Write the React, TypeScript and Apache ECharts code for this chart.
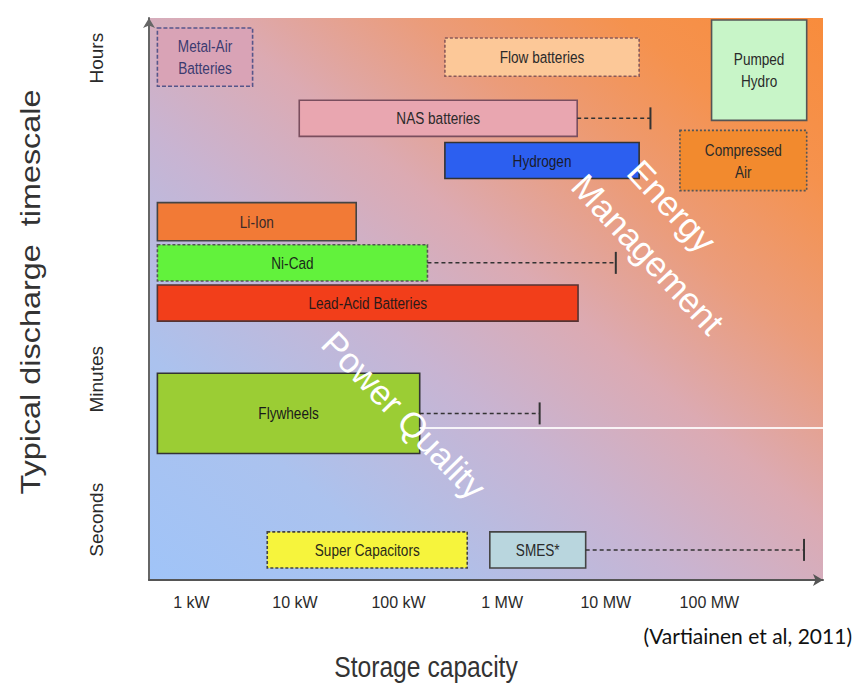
import React, { useEffect, useRef } from 'react';
import * as echarts from 'echarts';

// ---- data ----
const technologies = [
  'Metal-Air\nBatteries',
  'Flow batteries',
  'Pumped\nHydro',
  'NAS batteries',
  'Hydrogen',
  'Compressed\nAir',
  'Li-Ion',
  'Ni-Cad',
  'Lead-Acid Batteries',
  'Flywheels',
  'Super Capacitors',
  'SMES*',
];
// storage capacity range (kW, log axis)
const powerMinKW = [0.47, 280, 105000, 11, 280, 52000, 0.47, 0.47, 0.47, 0.47, 5.4, 760];
const powerMaxKW = [3.9, 21000, 870000, 5300, 21000, 870000, 39, 190, 5400, 160, 460, 6400];
// dashed extension (possible future range), kW
const powerExtKW: (number | null)[] = [null, null, null, 27000, null, null, null, 12500, null, 2300, null, 820000];
// discharge timescale band (relative scale units)
const timeLow = [24.6, 25.1, 22.9, 22.1, 20.0, 19.4, 16.9, 14.9, 12.9, 6.3, 0.6, 0.6];
const timeHigh = [27.5, 27.0, 27.9, 23.9, 21.8, 22.4, 18.8, 16.7, 14.7, 10.3, 2.4, 2.4];

const capacityTicks = ['1 kW', '10 kW', '100 kW', '1 MW', '10 MW', '100 MW'];
const timescaleTicks = ['Seconds', 'Minutes', 'Hours'];
const timescaleTickValues = [3, 10, 26];

// divider line (Power Quality boundary)
const dividerFromKW = 160;
const dividerLevel = 7.6;

// ---- styles ----
const fills = ['#d9a3b6', '#fcc898', '#c8f5c8', '#e9a6b0', '#2c5ff0', '#f28a2e', '#f27a36', '#62f23c', '#f23e1a', '#9bcd34', '#f6f43c', '#b9d6de'];
const strokes = ['#56568a', '#8a5a5a', '#555555', '#7a4e5e', '#333333', '#555555', '#444444', '#555555', '#553333', '#333333', '#444444', '#444444'];
const dashes: (number[] | null)[] = [[4, 2], [3, 2], null, null, null, [2, 2], null, [3, 2], null, null, [3, 2], null];
const textColors = ['#3b3b70', '#2a2a2a', '#2a2a2a', '#2a2a2a', '#1a1a2a', '#2a2a2a', '#3a2a2a', '#1a2a1a', '#2a1a1a', '#1a1a1a', '#2a2a1a', '#2a2a2a'];

const SANS = "'Liberation Sans', Arial, Helvetica, sans-serif";

export default function App() {
  const ref = useRef<HTMLDivElement>(null);

  useEffect(() => {
    const chart = echarts.init(ref.current!, null, { renderer: 'svg' });

    const data = technologies.map((_, i) => [powerMinKW[i], powerMaxKW[i], timeLow[i], timeHigh[i]]);

    const option: any = {
      animation: false,
      backgroundColor: '#ffffff',
      grid: {
        left: 149,
        right: 30,
        top: 18,
        bottom: 106,
        show: true,
        borderWidth: 0,
        backgroundColor: new echarts.graphic.LinearGradient(0, 1, 1, 0, [
          { offset: 0, color: '#a0c4f8' },
          { offset: 0.2, color: '#abc2ee' },
          { offset: 0.4, color: '#c8b4d2' },
          { offset: 0.55, color: '#dcaab2' },
          { offset: 0.7, color: '#eb9c7a' },
          { offset: 0.85, color: '#f5924e' },
          { offset: 1, color: '#f88c3c' },
        ]),
      },
      xAxis: {
        type: 'log',
        logBase: 10,
        min: 0.39,
        max: 1250000,
        axisLine: { show: true, symbol: ['none', 'arrow'], symbolSize: [9, 10], lineStyle: { color: '#555', width: 2 } },
        axisTick: { show: false },
        splitLine: { show: false },
        axisLabel: {
          margin: 14,
          color: '#2a2a2a',
          fontFamily: SANS,
          fontSize: 16,
          showMinLabel: true,
          showMaxLabel: true,
          formatter: (v: number) => {
            const l = Math.log10(v);
            const r = Math.round(l);
            if (Math.abs(l - r) > 1e-6) return '';
            return capacityTicks[r] ?? '';
          },
        },
      },
      yAxis: {
        type: 'value',
        min: 0,
        max: 28,
        interval: 1,
        axisLine: { show: true, symbol: ['none', 'arrow'], symbolSize: [9, 10], lineStyle: { color: '#666', width: 2 } },
        axisTick: { show: false },
        splitLine: { show: false },
        axisLabel: {
          rotate: 90,
          margin: 43,
          color: '#2a2a2a',
          fontFamily: SANS,
          fontSize: 19,
          formatter: (v: number) => {
            const idx = timescaleTickValues.indexOf(v);
            return idx >= 0 ? timescaleTicks[idx] : '';
          },
        },
      },
      graphic: [
        {
          type: 'text',
          x: 30,
          y: 292,
          rotation: Math.PI / 2,
          scaleX: 1.2,
          style: {
            text: 'Typical discharge  timescale',
            font: `27px ${SANS}`,
            fill: '#333',
            align: 'center',
            verticalAlign: 'middle',
          },
        },
        {
          type: 'text',
          x: 426,
          y: 667,
          scaleX: 0.85,
          style: {
            text: 'Storage capacity',
            font: `29px ${SANS}`,
            fill: '#333',
            align: 'center',
            verticalAlign: 'middle',
          },
        },
        {
          type: 'text',
          x: 852,
          y: 635,
          style: {
            text: '(Vartiainen et al, 2011)',
            font: `21px Lato, 'Open Sans', sans-serif`,
            fill: '#111',
            align: 'right',
            verticalAlign: 'middle',
          },
        },
        {
          type: 'text',
          x: 404,
          y: 415,
          rotation: -0.8,
          z: 100,
          style: {
            text: 'Power Quality',
            font: `35px ${SANS}`,
            fill: '#ffffff',
            align: 'center',
            verticalAlign: 'middle',
          },
        },
        {
          type: 'text',
          x: 672,
          y: 206,
          rotation: -0.82,
          z: 100,
          style: {
            text: 'Energy',
            font: `35px ${SANS}`,
            fill: '#ffffff',
            align: 'center',
            verticalAlign: 'middle',
          },
        },
        {
          type: 'text',
          x: 648,
          y: 254,
          rotation: -0.82,
          z: 100,
          style: {
            text: 'Management',
            font: `35px ${SANS}`,
            fill: '#ffffff',
            align: 'center',
            verticalAlign: 'middle',
          },
        },
      ],
      series: [
        {
          type: 'custom',
          encode: { x: [0, 1], y: [2, 3] },
          data,
          clip: false,
          renderItem: (params: any, api: any) => {
            const i = params.dataIndex;
            const p0 = api.coord([api.value(0), api.value(3)]);
            const p1 = api.coord([api.value(1), api.value(2)]);
            const midY = (p0[1] + p1[1]) / 2;
            const children: any[] = [
              {
                type: 'rect',
                shape: { x: p0[0], y: p0[1], width: p1[0] - p0[0], height: p1[1] - p0[1] },
                style: {
                  fill: fills[i],
                  stroke: strokes[i],
                  lineWidth: 1.6,
                  lineDash: dashes[i] || undefined,
                },
              },
            ];
            const ext = powerExtKW[i];
            if (ext != null) {
              const pe = api.coord([ext, api.value(2)]);
              children.push({
                type: 'line',
                shape: { x1: p1[0], y1: midY, x2: pe[0], y2: midY },
                style: { stroke: '#333', lineWidth: 1.5, lineDash: [4, 3] },
              });
              children.push({
                type: 'line',
                shape: { x1: pe[0], y1: midY - 11, x2: pe[0], y2: midY + 11 },
                style: { stroke: '#333', lineWidth: 2 },
              });
            }
            children.push({
              type: 'text',
              x: (p0[0] + p1[0]) / 2,
              y: midY,
              scaleX: 0.8,
              style: {
                text: technologies[i],
                font: `17px ${SANS}`,
                fill: textColors[i],
                align: 'center',
                verticalAlign: 'middle',
                lineHeight: 22,
              },
            });
            return { type: 'group', children };
          },
          markLine: {
            silent: true,
            symbol: ['none', 'none'],
            label: { show: false },
            lineStyle: { color: '#ffffff', width: 2, type: 'solid', opacity: 0.85 },
            data: [[{ coord: [dividerFromKW, dividerLevel] }, { coord: [1250000, dividerLevel] }]],
          },
        },
      ],
    };

    chart.setOption(option);
    return () => chart.dispose();
  }, []);

  return (
    <div
      ref={ref}
      style={{ position: 'fixed', left: 0, top: 0, width: 853, height: 686, background: '#fff' }}
    />
  );
}
